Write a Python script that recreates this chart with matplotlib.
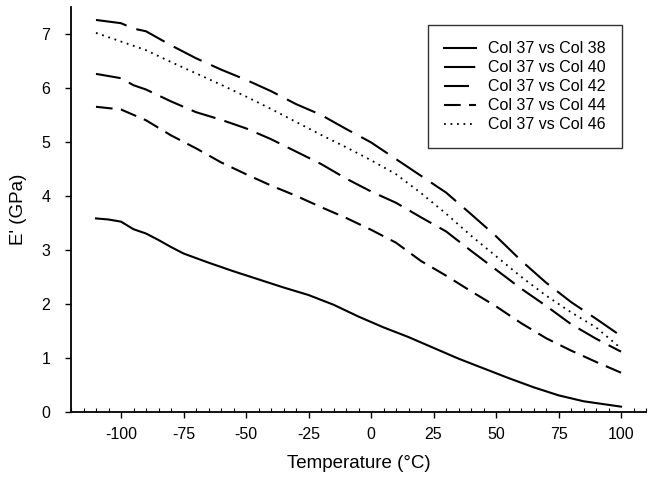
from matplotlib import pyplot as plt
import numpy as np

plt.rcParams['font.family'] = ['Liberation Sans', 'DejaVu Sans']
plt.rcParams['axes.unicode_minus'] = False

# E' (GPa) vs temperatura
t38 = [-110, -105, -100, -95, -90, -85, -80, -75, -65, -55, -45, -35, -25,
       -15, -5, 5, 15, 25, 35, 45, 55, 65, 75, 85, 100]
e38 = [3.58, 3.56, 3.52, 3.38, 3.30, 3.18, 3.05, 2.93, 2.76, 2.60, 2.45, 2.30, 2.16,
       1.98, 1.76, 1.56, 1.38, 1.18, 0.98, 0.80, 0.62, 0.45, 0.30, 0.19, 0.09]

t40 = [-110, -100, -95, -90, -80, -70, -60, -50, -40, -30, -20, -10, 0,
       10, 20, 30, 40, 50, 60, 70, 80, 90, 100]
e40 = [7.26, 7.20, 7.10, 7.05, 6.79, 6.55, 6.34, 6.15, 5.94, 5.70, 5.50, 5.24, 4.99,
       4.68, 4.37, 4.06, 3.66, 3.25, 2.80, 2.39, 2.03, 1.72, 1.40]

t42 = [-110, -100, -95, -90, -80, -70, -60, -50, -40, -30, -20, -10, 0,
       10, 20, 30, 40, 50, 60, 70, 80, 90, 100]
e42 = [6.26, 6.18, 6.05, 5.97, 5.75, 5.55, 5.41, 5.25, 5.05, 4.82, 4.59, 4.32, 4.08,
       3.87, 3.60, 3.34, 2.98, 2.63, 2.28, 1.96, 1.62, 1.35, 1.11]

t44 = [-110, -100, -90, -80, -70, -60, -50, -40, -30, -20, -10, 0,
       10, 20, 30, 40, 50, 60, 70, 80, 90, 100]
e44 = [5.65, 5.60, 5.40, 5.12, 4.88, 4.62, 4.40, 4.19, 4.00, 3.79, 3.59, 3.37,
       3.13, 2.79, 2.52, 2.23, 1.95, 1.64, 1.36, 1.13, 0.92, 0.72]

t46 = [-110, -100, -90, -80, -70, -60, -50, -40, -30, -20, -10, 0,
       10, 20, 30, 40, 50, 60, 70, 80, 90, 100]
e46 = [7.02, 6.86, 6.70, 6.48, 6.27, 6.06, 5.84, 5.61, 5.37, 5.13, 4.90, 4.66,
       4.40, 4.05, 3.67, 3.26, 2.88, 2.50, 2.15, 1.84, 1.56, 1.17]

labels = ['Col 37 vs Col 38', 'Col 37 vs Col 40', 'Col 37 vs Col 42',
          'Col 37 vs Col 44', 'Col 37 vs Col 46']
xticks = [-100, -75, -50, -25, 0, 25, 50, 75, 100]
yticks = [0, 1, 2, 3, 4, 5, 6, 7]

fig = plt.figure(figsize=(6.49, 4.8), dpi=100)
ax = fig.add_axes([0.1094, 0.1427, 0.886, 0.8427])

lw = 1.5
ax.plot(t38, e38, color='black', lw=lw, linestyle='-', label=labels[0])
ax.plot(t40, e40, color='black', lw=lw, linestyle=(0, (15, 5)), label=labels[1])
ax.plot(t42, e42, color='black', lw=lw, linestyle=(0, (12, 4.5)), label=labels[2])
ax.plot(t44, e44, color='black', lw=lw, linestyle=(0, (8, 4)), label=labels[3])
ax.plot(t46, e46, color='black', lw=1.3, linestyle=(0, (1, 2.6)), label=labels[4])

ax.set_xlim(-120, 110)
ax.set_ylim(0, 7.5)
ax.set_xticks(xticks)
ax.set_xticks(np.arange(-120, 111, 5), minor=True)
ax.set_yticks(yticks)
ax.tick_params(axis='x', which='major', direction='out', length=4.5, width=1,
               labelsize=11.5, pad=7)
ax.tick_params(axis='x', which='minor', direction='in', length=3, width=0.8)
ax.tick_params(axis='y', which='major', direction='out', length=4, width=1,
               labelsize=11.5, pad=11)
for s in ['top', 'right']:
    ax.spines[s].set_visible(False)
for s in ['left', 'bottom']:
    ax.spines[s].set_linewidth(1.3)

ax.set_xlabel('Temperature (°C)', fontsize=13.5)
ax.set_ylabel("E' (GPa)", fontsize=13.5)
ax.xaxis.set_label_coords(0.5, -0.107)
ax.yaxis.set_label_coords(-0.077, 0.5)

leg = ax.legend(loc='upper right', bbox_to_anchor=(0.958, 0.955), fontsize=11.5,
                frameon=True, fancybox=False, edgecolor='black',
                handlelength=2.0, handletextpad=0.75, labelspacing=0.25,
                borderpad=1.0, borderaxespad=0)
leg.get_frame().set_linewidth(1.0)

plt.savefig('out.png', dpi=100)
